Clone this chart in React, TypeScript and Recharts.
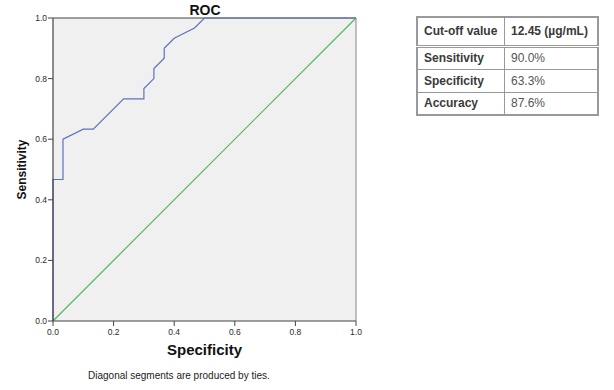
import React from 'react';
import { LineChart, Line, XAxis, YAxis, CartesianGrid, ReferenceLine } from 'recharts';

// ROC curve (x: 1 - specificity style axis, y: sensitivity)
const rocX = [0, 0, 0.033, 0.033, 0.1, 0.133, 0.233, 0.3, 0.3, 0.333, 0.333, 0.367, 0.367, 0.4, 0.467, 0.5, 1];
const rocY = [0, 0.467, 0.467, 0.6, 0.633, 0.633, 0.733, 0.733, 0.767, 0.8, 0.833, 0.867, 0.9, 0.933, 0.967, 1, 1];
const diagX = [0, 1];
const diagY = [0, 1];
const axisTicks = [0, 0.2, 0.4, 0.6, 0.8, 1];

const tableRows = [
  ['Cut-off value', '12.45 (µg/mL)'],
  ['Sensitivity', '90.0%'],
  ['Specificity', '63.3%'],
  ['Accuracy', '87.6%'],
];

const rocData = rocX.map((x, i) => ({ x, y: rocY[i] }));
const diagSegment = diagX.map((x, i) => ({ x, y: diagY[i] }));

const FONT = '"Liberation Sans", Arial, sans-serif';

export default function App() {
  return (
    <div style={{ position: 'absolute', left: 0, top: 0, width: 614, height: 390, background: '#fff', fontFamily: FONT }}>
      <div style={{ position: 'absolute', left: 0, width: 410, top: 3, fontSize: 14, lineHeight: '14px', fontWeight: 700, color: '#111' }}>
        <span style={{ position: 'absolute', left: 205, transform: 'translateX(-50%)' }}>ROC</span>
      </div>
      <LineChart width={370} height={390} margin={{ top: 18, right: 14, left: 0, bottom: 0 }}>
        <CartesianGrid horizontal={false} vertical={false} fill="#f0f0f0" fillOpacity={1} />
        <XAxis
          dataKey="x"
          type="number"
          domain={[0, 1]}
          ticks={axisTicks}
          tickFormatter={(v: number) => v.toFixed(1)}
          height={69}
          tickSize={5}
          tickMargin={3}
          stroke="#444"
          tick={{ fontSize: 8.5, fill: '#2a2a2a', fontFamily: FONT }}
          tickLine={{ stroke: '#444' }}
          axisLine={{ stroke: '#444', strokeWidth: 1.2 }}
          allowDuplicatedCategory
          label={{
            value: 'Specificity',
            content: (p: any) => {
              const vb = p.viewBox || { x: 53, width: 303, y: 321 };
              return (
                <text x={vb.x + vb.width / 2} y={vb.y + 34} textAnchor="middle" fontSize={15} fontWeight={700} fill="#111" fontFamily={FONT}>
                  Specificity
                </text>
              );
            },
          }}
        />
        <YAxis
          dataKey="y"
          type="number"
          domain={[0, 1]}
          ticks={axisTicks}
          tickFormatter={(v: number) => v.toFixed(1)}
          width={53}
          tickSize={5}
          tickMargin={1}
          stroke="#444"
          tick={{ fontSize: 8.5, fill: '#2a2a2a', fontFamily: FONT }}
          tickLine={{ stroke: '#444' }}
          axisLine={{ stroke: '#444', strokeWidth: 1.2 }}
          label={{
            value: 'Sensitivity',
            content: (p: any) => {
              const vb = p.viewBox || { y: 18, height: 303 };
              const cy = vb.y + vb.height / 2;
              return (
                <text x={26} y={cy} transform={`rotate(-90 26 ${cy})`} textAnchor="middle" fontSize={12} fontWeight={700} fill="#111" fontFamily={FONT}>
                  Sensitivity
                </text>
              );
            },
          }}
        />
        <ReferenceLine y={1} stroke="#444" strokeWidth={1.2} />
        <ReferenceLine x={1} stroke="#999" strokeWidth={1.2} />
        <ReferenceLine
          segment={diagSegment}
          stroke="#55b65a"
          strokeWidth={1.2}
          ifOverflow="visible"
        />
        <Line data={rocData} dataKey="y" type="linear" stroke="#5e72bd" strokeWidth={1.2} dot={false} isAnimationActive={false} />
      </LineChart>
      <div style={{ position: 'absolute', left: 88, top: 370, fontSize: 10, lineHeight: '12px', color: '#222', whiteSpace: 'nowrap' }}>
        Diagonal segments are produced by ties.
      </div>
      <table
        style={{
          position: 'absolute',
          left: 416,
          top: 16,
          width: 183,
          borderCollapse: 'collapse',
          border: '2px solid #999',
          fontSize: 12,
          color: '#333',
          fontFamily: FONT,
        }}
      >
        <tbody>
          {tableRows.map((r, i) => (
            <tr key={r[0]} style={{ height: i === 0 ? 29 : 23 }}>
              <td
                style={{
                  width: 80,
                  padding: '0 0 0 6px',
                  fontWeight: 700,
                  color: '#3a3a3a',
                  border: '1px solid #999',
                  borderBottom: i === 0 ? '3px double #999' : '1px solid #999',
                  whiteSpace: 'nowrap',
                }}
              >
                {r[0]}
              </td>
              <td
                style={{
                  padding: '0 0 0 6px',
                  fontWeight: i === 0 ? 700 : 400,
                  color: i === 0 ? '#3a3a3a' : '#555',
                  border: '1px solid #999',
                  borderBottom: i === 0 ? '3px double #999' : '1px solid #999',
                  whiteSpace: 'nowrap',
                }}
              >
                {r[1]}
              </td>
            </tr>
          ))}
        </tbody>
      </table>
    </div>
  );
}
